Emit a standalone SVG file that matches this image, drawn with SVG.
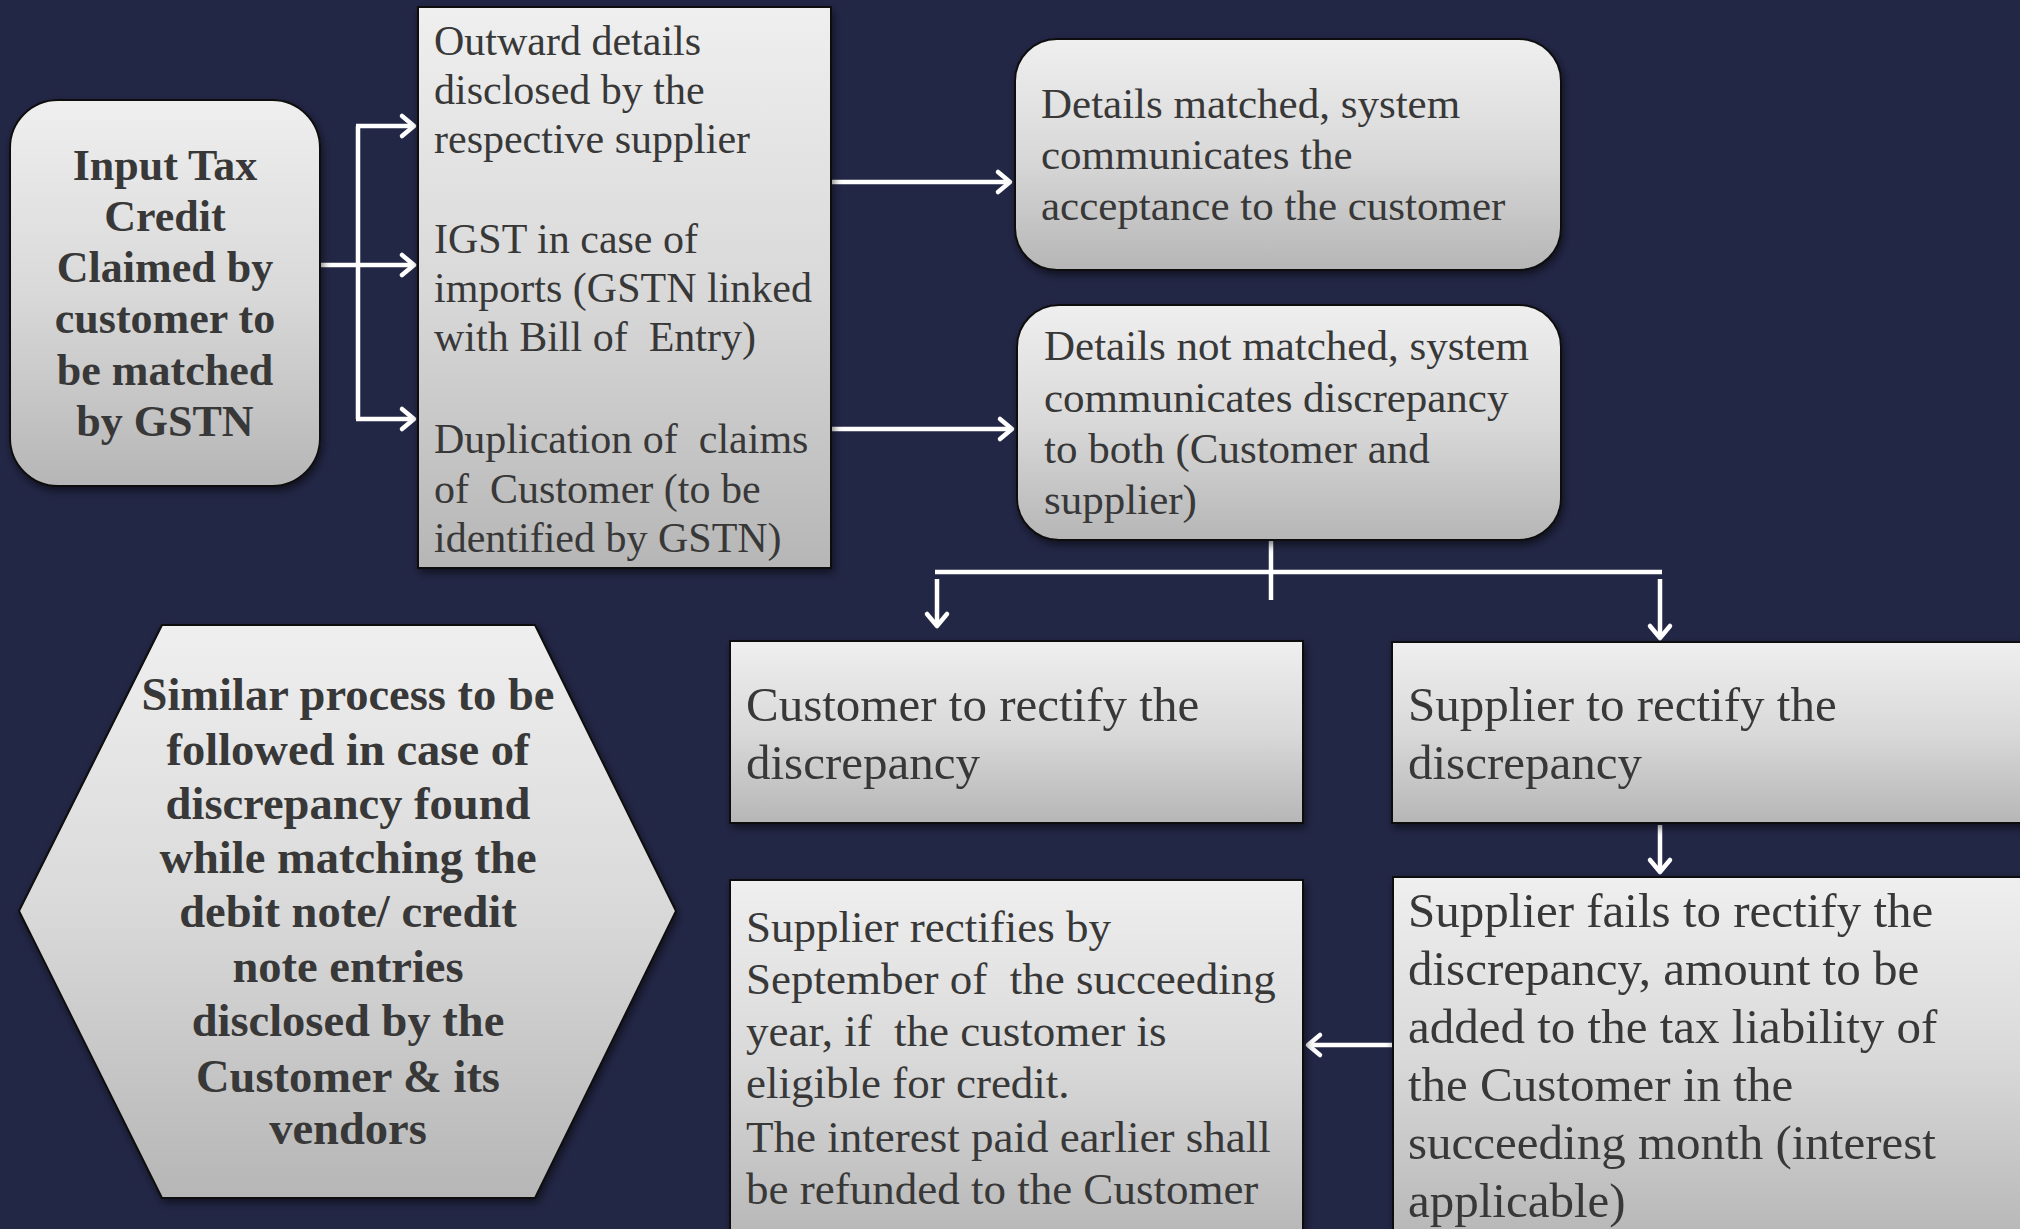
<svg xmlns="http://www.w3.org/2000/svg" width="2020" height="1229" viewBox="0 0 2020 1229">
<defs>
<linearGradient id="g" x1="0" y1="0" x2="0" y2="1">
<stop offset="0" stop-color="#efefef"/>
<stop offset="0.5" stop-color="#d9d9d9"/>
<stop offset="1" stop-color="#b6b6b6"/>
</linearGradient>
<filter id="sh" x="-10%" y="-10%" width="120%" height="120%">
<feDropShadow dx="2" dy="4" stdDeviation="4" flood-color="#000" flood-opacity="0.55"/>
</filter>
<marker id="ah" markerUnits="userSpaceOnUse" viewBox="-16 -14 20 28" refX="0" refY="0" markerWidth="20" markerHeight="28" orient="auto">
<path d="M-12,-10 L0,0 L-12,10" fill="none" stroke="#fff" stroke-width="4.5" stroke-linecap="round" stroke-linejoin="round"/>
</marker>
<style>
.box{fill:url(#g);stroke:#111;stroke-width:2;filter:url(#sh)}
.t{font-family:"Liberation Serif","Times New Roman",serif;fill:#383838}
.b{font-weight:bold;text-anchor:middle}
.c{fill:none;stroke:#fff;stroke-width:4.5}
.a{marker-end:url(#ah)}
</style>
</defs>
<rect width="2020" height="1229" fill="#232746"/>

<g id="connectors">
<path class="c" d="M358,126 V419"/>
<path class="c a" d="M356,126 H414"/>
<path class="c a" d="M320,265 H414"/>
<path class="c a" d="M356,419 H414"/>
<path class="c a" d="M831,182 H1010"/>
<path class="c a" d="M831,429 H1012"/>
<path class="c" d="M1271,540 V600"/>
<path class="c" d="M935,572 H1662"/>
<path class="c a" d="M937,579 V626"/>
<path class="c a" d="M1660,579 V638"/>
<path class="c a" d="M1660,825 V872"/>
<path class="c a" d="M1403,1045 H1308"/>
</g>

<g id="n_input">
<rect class="box" x="10" y="100" width="310" height="386" rx="48"/>
<text class="t b" font-size="44" x="165"><tspan x="165" y="180">Input Tax</tspan><tspan x="165" y="231">Credit</tspan><tspan x="165" y="282">Claimed by</tspan><tspan x="165" y="333">customer to</tspan><tspan x="165" y="385">be matched</tspan><tspan x="165" y="436">by GSTN</tspan></text>
</g>

<g id="n_sources">
<rect class="box" x="418" y="7" width="413" height="561"/>
<text class="t" font-size="42" xml:space="preserve"><tspan x="434" y="55">Outward details</tspan><tspan x="434" y="104">disclosed by the</tspan><tspan x="434" y="153">respective supplier</tspan><tspan x="434" y="253">IGST in case of</tspan><tspan x="434" y="302">imports (GSTN linked</tspan><tspan x="434" y="351">with Bill of  Entry)</tspan><tspan x="434" y="453">Duplication of  claims</tspan><tspan x="434" y="503">of  Customer (to be</tspan><tspan x="434" y="552">identified by GSTN)</tspan></text>
</g>

<g id="n_matched">
<rect class="box" x="1015" y="39" width="546" height="231" rx="42"/>
<text class="t" font-size="43"><tspan x="1041" y="118">Details matched, system</tspan><tspan x="1041" y="169">communicates the</tspan><tspan x="1041" y="220">acceptance to the customer</tspan></text>
</g>

<g id="n_notmatched">
<rect class="box" x="1017" y="305" width="544" height="235" rx="42"/>
<text class="t" font-size="43"><tspan x="1044" y="360">Details not matched, system</tspan><tspan x="1044" y="412">communicates discrepancy</tspan><tspan x="1044" y="463">to both (Customer and</tspan><tspan x="1044" y="514">supplier)</tspan></text>
</g>

<g id="n_hex">
<polygon class="box" points="162,625 535,625 676,911 535,1198 162,1198 19,911"/>
<text class="t b" font-size="46.5"><tspan x="348" y="710">Similar process to be</tspan><tspan x="348" y="765">followed in case of</tspan><tspan x="348" y="819">discrepancy found</tspan><tspan x="348" y="873">while matching the</tspan><tspan x="348" y="927">debit note/ credit</tspan><tspan x="348" y="982">note entries</tspan><tspan x="348" y="1036">disclosed by the</tspan><tspan x="348" y="1092">Customer &amp; its</tspan><tspan x="348" y="1144">vendors</tspan></text>
</g>

<g id="n_customer">
<rect class="box" x="730" y="641" width="573" height="182"/>
<text class="t" font-size="49"><tspan x="746" y="721">Customer to rectify the</tspan><tspan x="746" y="779">discrepancy</tspan></text>
</g>

<g id="n_supplier">
<rect class="box" x="1392" y="642" width="650" height="181"/>
<text class="t" font-size="49"><tspan x="1408" y="721">Supplier to rectify the</tspan><tspan x="1408" y="779">discrepancy</tspan></text>
</g>

<g id="n_rectifies">
<rect class="box" x="730" y="880" width="573" height="362"/>
<text class="t" font-size="45" xml:space="preserve"><tspan x="746" y="942">Supplier rectifies by</tspan><tspan x="746" y="994">September of  the succeeding</tspan><tspan x="746" y="1046">year, if  the customer is</tspan><tspan x="746" y="1098">eligible for credit.</tspan><tspan x="746" y="1152">The interest paid earlier shall</tspan><tspan x="746" y="1204">be refunded to the Customer</tspan></text>
</g>

<g id="n_fails">
<rect class="box" x="1393" y="877" width="650" height="365"/>
<text class="t" font-size="49"><tspan x="1408" y="927">Supplier fails to rectify the</tspan><tspan x="1408" y="985">discrepancy, amount to be</tspan><tspan x="1408" y="1043">added to the tax liability of</tspan><tspan x="1408" y="1101">the Customer in the</tspan><tspan x="1408" y="1159">succeeding month (interest</tspan><tspan x="1408" y="1217">applicable)</tspan></text>
</g>
</svg>
